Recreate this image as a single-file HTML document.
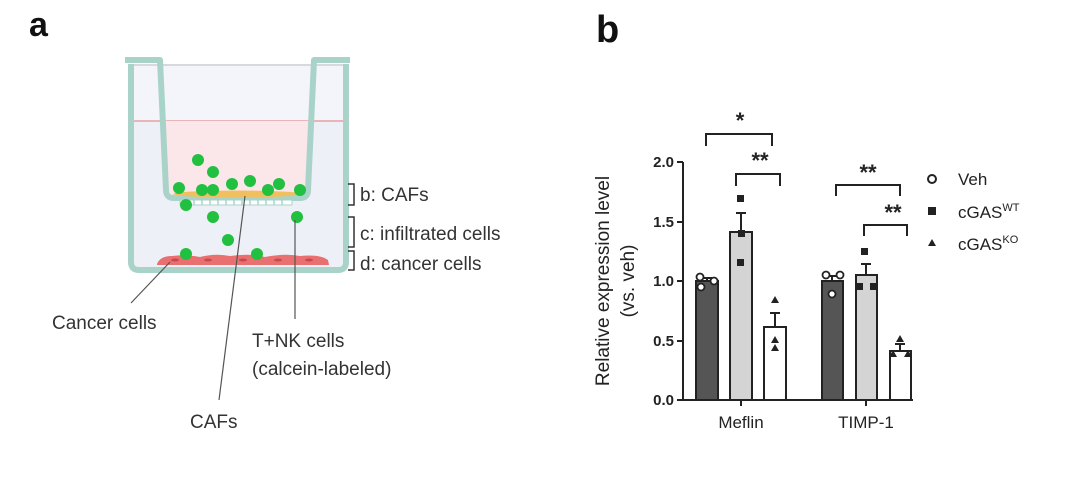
<!DOCTYPE html>
<html><head><style>
body{margin:0;background:#fff;}
svg{display:block;font-family:"Liberation Sans",Arial,sans-serif;}
</style></head><body>
<svg width="1071" height="483" viewBox="0 0 1071 483">
<rect width="1071" height="483" fill="#fff"/>
<text x="29" y="36" font-size="34" font-weight="bold" fill="#111">a</text>
<text x="596" y="42" font-size="38" font-weight="bold" fill="#111">b</text>

<!-- outer well -->
<path d="M131 64 L131 262 Q131 270 139 270 L338 270 Q346 270 346 262 L346 64" fill="#eef0f8" stroke="#a9d3c8" stroke-width="6"/>
<rect x="134" y="64" width="209" height="57" fill="#f3f5fa"/>
<line x1="134" y1="65" x2="343" y2="65" stroke="#c8c8cc" stroke-width="1.2"/>
<line x1="134" y1="121" x2="343" y2="121" stroke="#e8a0a0" stroke-width="1.5"/>
<!-- insert -->
<path d="M163 121 L166 190 Q166 198 174 198 L300 198 Q308 198 308 190 L312 121 Z" fill="#fbe7e9"/>
<path d="M125 60 L160 60 L166 190 Q166 198 174 198 L300 198 Q308 198 308 190 L314 60 L350 60" fill="none" stroke="#a9d3c8" stroke-width="6" stroke-linejoin="round"/>
<!-- pores -->
<rect x="180" y="200" width="112" height="5" fill="#fff" stroke="#a9d3c8" stroke-width="1"/>
<g stroke="#a9d3c8" stroke-width="1.5">
<line x1="186" y1="200" x2="186" y2="205"/><line x1="194" y1="200" x2="194" y2="205"/><line x1="202" y1="200" x2="202" y2="205"/><line x1="210" y1="200" x2="210" y2="205"/><line x1="218" y1="200" x2="218" y2="205"/><line x1="226" y1="200" x2="226" y2="205"/><line x1="234" y1="200" x2="234" y2="205"/><line x1="242" y1="200" x2="242" y2="205"/><line x1="250" y1="200" x2="250" y2="205"/><line x1="258" y1="200" x2="258" y2="205"/><line x1="266" y1="200" x2="266" y2="205"/><line x1="274" y1="200" x2="274" y2="205"/><line x1="282" y1="200" x2="282" y2="205"/>
</g>
<ellipse cx="237" cy="194" rx="64" ry="3.5" fill="#f0c060"/>
<path d="M157 264 Q160 256 172 256 Q185 254 200 257 Q215 253 230 256 Q250 253 265 257 Q285 253 300 256 Q320 254 328 260 L329 265 L157 265 Z" fill="#e87070"/>
<g fill="#c94848"><ellipse cx="175" cy="260" rx="4" ry="1.5"/><ellipse cx="208" cy="260" rx="4" ry="1.5"/><ellipse cx="243" cy="260" rx="4" ry="1.5"/><ellipse cx="278" cy="260" rx="4" ry="1.5"/><ellipse cx="309" cy="260" rx="4" ry="1.5"/></g>
<g fill="#22c040">
<circle cx="198" cy="160" r="6"/><circle cx="213" cy="172" r="6"/><circle cx="179" cy="188" r="6"/><circle cx="202" cy="190" r="6"/><circle cx="213" cy="190" r="6"/><circle cx="232" cy="184" r="6"/><circle cx="250" cy="181" r="6"/><circle cx="268" cy="190" r="6"/><circle cx="279" cy="184" r="6"/><circle cx="300" cy="190" r="6"/>
<circle cx="186" cy="205" r="6"/><circle cx="213" cy="217" r="6"/><circle cx="297" cy="217" r="6"/><circle cx="228" cy="240" r="6"/><circle cx="186" cy="254" r="6"/><circle cx="257" cy="254" r="6"/>
</g>
<g fill="none" stroke="#333" stroke-width="1.5">
<path d="M348 184 L354 184 L354 205 L348 205"/>
<path d="M348 217 L354 217 L354 247 L348 247"/>
<path d="M348 251 L354 251 L354 270 L348 270"/>
</g>
<g font-size="19" fill="#333">
<text x="360" y="201">b: CAFs</text>
<text x="360" y="240">c: infiltrated cells</text>
<text x="360" y="270">d: cancer cells</text>
<text x="52" y="329">Cancer cells</text>
<text x="190" y="428">CAFs</text>
<text x="252" y="347">T+NK cells</text>
<text x="252" y="375">(calcein-labeled)</text>
</g>
<g stroke="#555" stroke-width="1.2">
<line x1="170" y1="262" x2="131" y2="303"/>
<line x1="245" y1="196" x2="219" y2="400"/>
<line x1="295" y1="220" x2="295" y2="319"/>
</g>

<!-- chart -->
<g stroke="#222" stroke-width="2">
<line x1="683" y1="162" x2="683" y2="401"/>
<line x1="682" y1="400" x2="913" y2="400"/>
<line x1="677" y1="162" x2="683" y2="162"/><line x1="677" y1="222" x2="683" y2="222"/><line x1="677" y1="281" x2="683" y2="281"/><line x1="677" y1="341" x2="683" y2="341"/><line x1="677" y1="400" x2="683" y2="400"/>
<line x1="741" y1="400" x2="741" y2="406"/><line x1="866" y1="400" x2="866" y2="406"/>
</g>
<g font-size="15" font-weight="bold" fill="#222" text-anchor="end">
<text x="674" y="167">2.0</text><text x="674" y="227">1.5</text><text x="674" y="286">1.0</text><text x="674" y="346">0.5</text><text x="674" y="405">0.0</text>
</g>
<text transform="translate(609,281) rotate(-90)" font-size="19" fill="#222" text-anchor="middle">Relative expression level</text>
<text transform="translate(634,281) rotate(-90)" font-size="19" fill="#222" text-anchor="middle">(vs. veh)</text>
<g font-size="17" fill="#222" text-anchor="middle"><text x="741" y="428">Meflin</text><text x="866" y="428">TIMP-1</text></g>
<g stroke="#222" stroke-width="2">
<rect x="696" y="281" width="22" height="119" fill="#555"/>
<rect x="730" y="232" width="22" height="168" fill="#d4d4d4"/>
<rect x="764" y="327" width="22" height="73" fill="#fff"/>
<rect x="822" y="281" width="21" height="119" fill="#555"/>
<rect x="856" y="275" width="21" height="125" fill="#d4d4d4"/>
<rect x="890" y="351" width="21" height="49" fill="#fff"/>
<path d="M707 281 V278 M702 278 H712" fill="none"/>
<path d="M741 232 V213 M736 213 H746" fill="none"/>
<path d="M775 327 V313 M770 313 H780" fill="none"/>
<path d="M832 281 V276 M827 276 H837" fill="none"/>
<path d="M866 275 V264 M861 264 H871" fill="none"/>
<path d="M900 351 V344 M895 344 H905" fill="none"/>
</g>
<g fill="none" stroke="#222" stroke-width="2">
<path d="M706 146 V134 H772 V146"/>
<path d="M736 186 V174 H780 V186"/>
<path d="M836 196 V185 H900 V196"/>
<path d="M864 236 V225 H907 V236"/>
</g>
<g font-size="22" font-weight="bold" fill="#222" text-anchor="middle">
<text x="740" y="128">*</text><text x="760" y="168">**</text><text x="868" y="180">**</text><text x="893" y="220">**</text>
</g>
<g fill="#fff" stroke="#222" stroke-width="1.8">
<circle cx="700" cy="277" r="3.5"/><circle cx="701" cy="287" r="3.5"/><circle cx="714" cy="281" r="3.5"/>
<circle cx="826" cy="275" r="3.5"/><circle cx="832" cy="294" r="3.5"/><circle cx="840" cy="275" r="3.5"/>
</g>
<g fill="#222">
<rect x="737" y="195" width="7" height="7"/><rect x="738" y="230" width="7" height="7"/><rect x="737" y="259" width="7" height="7"/>
<rect x="861" y="248" width="7" height="7"/><rect x="856" y="283" width="7" height="7"/><rect x="870" y="283" width="7" height="7"/>
<path d="M775 296 l4 7 h-8z"/><path d="M775 336 l4 7 h-8z"/><path d="M775 344 l4 7 h-8z"/>
<path d="M900 335 l4 7 h-8z"/><path d="M893 350 l4 7 h-8z"/><path d="M908 350 l4 7 h-8z"/>
</g>
<circle cx="932" cy="179" r="4" fill="#fff" stroke="#222" stroke-width="2"/>
<rect x="928" y="207" width="8" height="8" fill="#222"/>
<path d="M932 239 l4 7 h-8z" fill="#222"/>
<g font-size="17" fill="#222">
<text x="958" y="185">Veh</text>
<text x="958" y="218">cGAS<tspan font-size="11" dy="-7">WT</tspan></text>
<text x="958" y="250">cGAS<tspan font-size="11" dy="-7">KO</tspan></text>
</g>
</svg>
</body></html>
